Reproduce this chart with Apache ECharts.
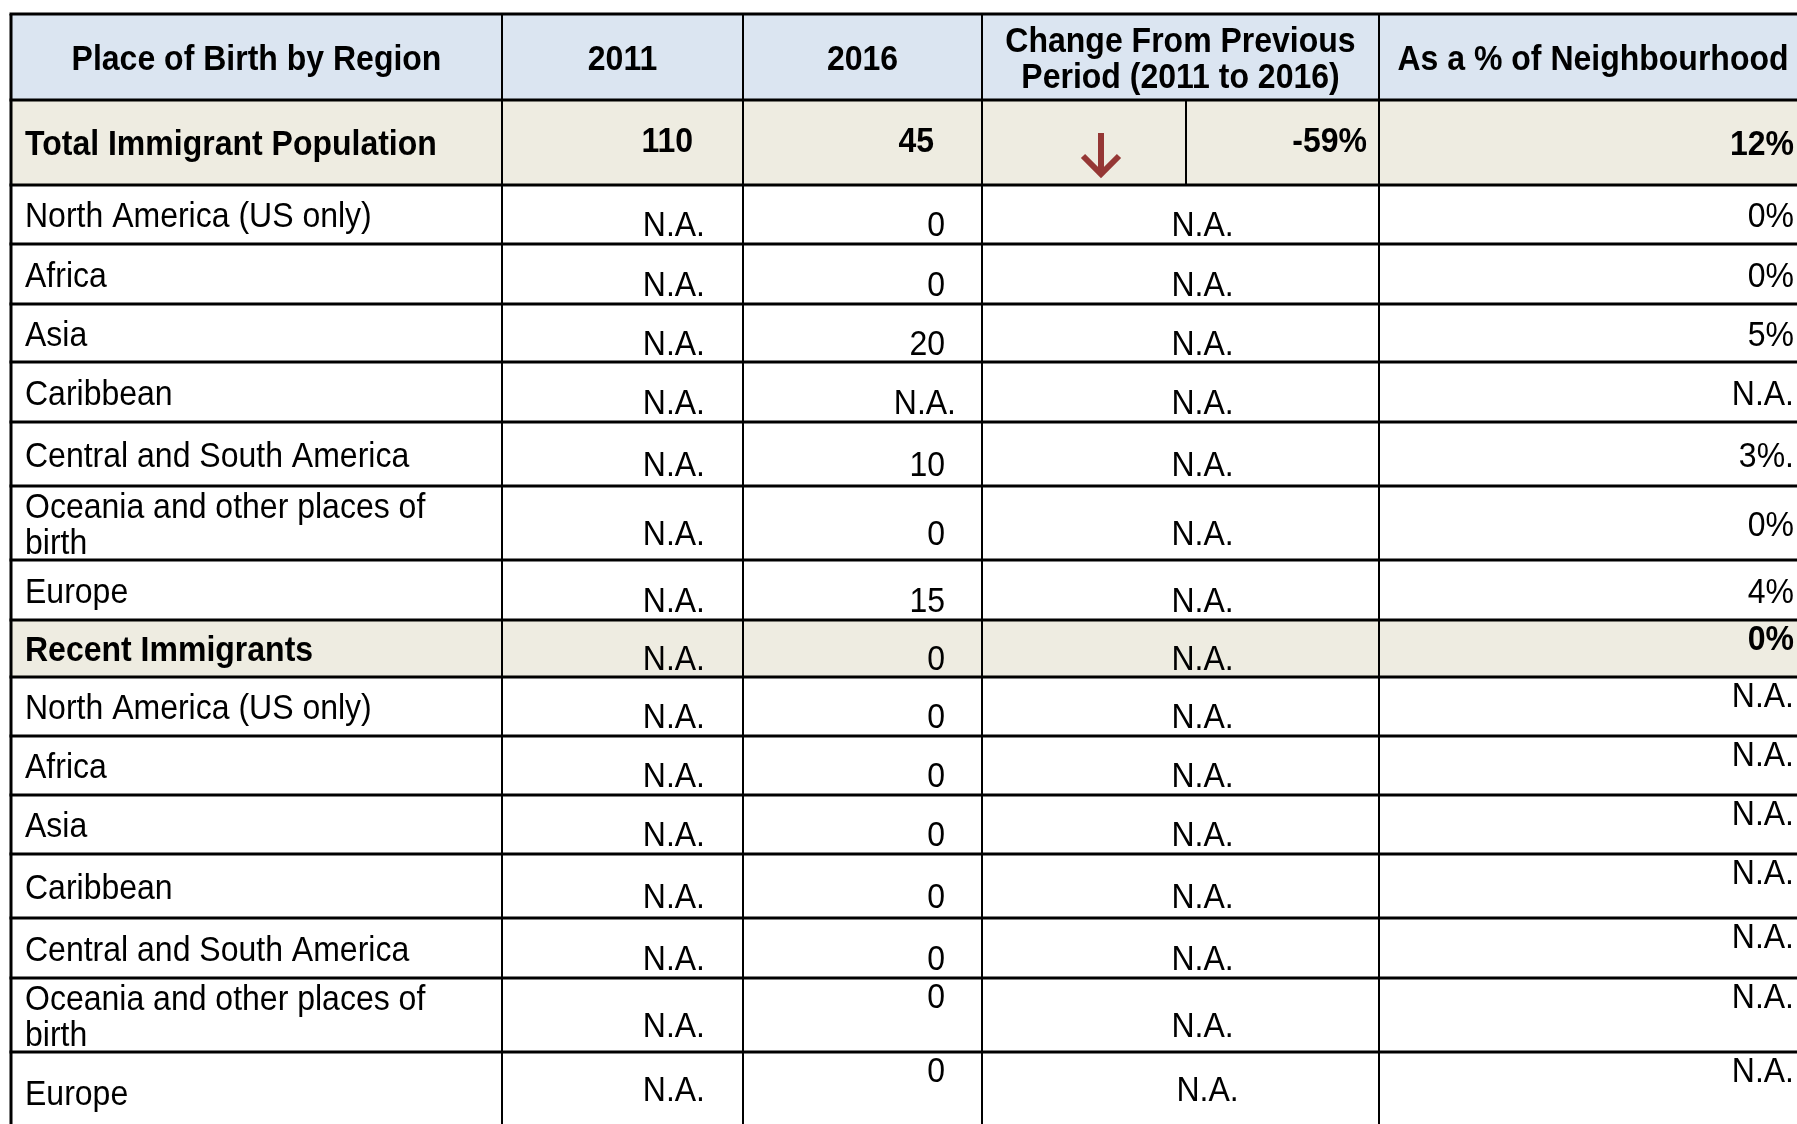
<!DOCTYPE html>
<html>
<head>
<meta charset="utf-8">
<script src="https://cdn.jsdelivr.net/npm/echarts@6/dist/echarts.min.js"></script>
<style>
  html, body { margin: 0; padding: 0; background: #fff; }
  #chart { width: 1797px; height: 1124px; }
</style>
</head>
<body>
<div id="chart"></div>
<script>
// table data
const headers = ['Place of Birth by Region', '2011', '2016', 'Change From Previous\nPeriod (2011 to 2016)', 'As a % of Neighbourhood'];
const regions = [
  'Total Immigrant Population',
  'North America (US only)', 'Africa', 'Asia', 'Caribbean', 'Central and South America',
  'Oceania and other places of\nbirth', 'Europe',
  'Recent Immigrants',
  'North America (US only)', 'Africa', 'Asia', 'Caribbean', 'Central and South America',
  'Oceania and other places of\nbirth', 'Europe'
];
const values2011 = [110, 'N.A.', 'N.A.', 'N.A.', 'N.A.', 'N.A.', 'N.A.', 'N.A.', 'N.A.', 'N.A.', 'N.A.', 'N.A.', 'N.A.', 'N.A.', 'N.A.', 'N.A.'];
const values2016 = [45, 0, 0, 20, 'N.A.', 10, 0, 15, 0, 0, 0, 0, 0, 0, 0, 0];
const changePct = ['-59%', 'N.A.', 'N.A.', 'N.A.', 'N.A.', 'N.A.', 'N.A.', 'N.A.', 'N.A.', 'N.A.', 'N.A.', 'N.A.', 'N.A.', 'N.A.', 'N.A.', 'N.A.'];
const neighbourhoodPct = ['12%', '0%', '0%', '5%', 'N.A.', '3%.', '0%', '4%', '0%', 'N.A.', 'N.A.', 'N.A.', 'N.A.', 'N.A.', 'N.A.', 'N.A.'];
const summaryRows = [0, 8];

// layout (pixel units of the hidden axes)
const colEdges = [11, 502, 743, 982, 1379, 1807];
const changeSplit = 1186;
const rowEdges = [14, 100, 185, 244, 304, 362, 422, 486, 560, 620, 677, 736, 795, 854, 918, 978, 1052, 1132];
const TEXT_DY = 3;

const chart = echarts.init(document.getElementById('chart'));
const FONT = '"Liberation Sans", Arial, sans-serif';

function txt(api, x, y, text, align, bold) {
  const p = api.coord([x, y + TEXT_DY]);
  return {
    type: 'text',
    x: p[0], y: p[1],
    scaleY: 1.1,
    style: {
      text: String(text),
      fontFamily: FONT,
      fontSize: 32,
      fontWeight: bold ? 'bold' : 'normal',
      fill: '#000',
      align: align,
      verticalAlign: 'middle',
      lineHeight: 33
    }
  };
}

function renderRow(params, api) {
  const r = params.dataIndex;          // 0 = header row
  const top = rowEdges[r], bot = rowEdges[r + 1];
  const mid = (top + bot) / 2;
  const a = api.coord([colEdges[0], top]);
  const b = api.coord([colEdges[5], bot]);
  const kids = [];
  let fill = '#ffffff';
  if (r === 0) fill = '#dbe5f1';
  else if (summaryRows.indexOf(r - 1) >= 0) fill = '#eeece1';
  kids.push({ type: 'rect', shape: { x: a[0], y: a[1], width: b[0] - a[0], height: b[1] - a[1] }, style: { fill: fill } });

  if (r === 0) {
    headers.forEach(function (h, c) {
      kids.push(txt(api, (colEdges[c] + colEdges[c + 1]) / 2, mid, h, 'center', true));
    });
    return { type: 'group', children: kids };
  }

  const i = r - 1;
  const isTotal = i === 0;
  const bold = summaryRows.indexOf(i) >= 0;
  const secondBlock = i >= 8;
  const lastRow = i === regions.length - 1;
  kids.push(txt(api, colEdges[0] + 14, mid, regions[i], 'left', bold));

  if (isTotal) {
    kids.push(txt(api, colEdges[2] - 50, mid - 3, values2011[i], 'right', true));
    kids.push(txt(api, colEdges[3] - 48, mid - 3, values2016[i], 'right', true));
    kids.push(txt(api, colEdges[4] - 12, mid - 3, changePct[i], 'right', true));
    kids.push(txt(api, colEdges[5] - 13, mid, neighbourhoodPct[i], 'right', true));
    // down arrow for the change
    const ax = (colEdges[3] + changeSplit) / 2 + 17;
    const s0 = api.coord([ax, 133]), s1 = api.coord([ax, 174]);
    const hl = api.coord([ax - 18, 156]), hr = api.coord([ax + 18, 156]);
    const arrowStyle = { stroke: '#953735', lineWidth: 6, fill: null };
    kids.push({ type: 'line', shape: { x1: s0[0], y1: s0[1], x2: s1[0], y2: s1[1] - 3 }, style: arrowStyle });
    kids.push({ type: 'polyline', shape: { points: [hl, [s1[0], s1[1]], hr] }, style: Object.assign({ lineJoin: 'miter' }, arrowStyle) });
    return { type: 'group', children: kids };
  }

  const valY = lastRow ? top + 36 : mid + 9;
  kids.push(txt(api, colEdges[2] - 38, valY, values2011[i], 'right', false));
  const v16 = values2016[i];
  kids.push(txt(api, colEdges[3] - 37 + (v16 === 'N.A.' ? 11 : 0), i >= 14 ? top + 17 : valY, v16, 'right', false));
  kids.push(txt(api, (colEdges[3] + colEdges[4]) / 2 + 22 + (lastRow ? 5 : 0), valY, changePct[i], 'center', false));
  kids.push(txt(api, colEdges[5] - 13, secondBlock ? top + 17 : mid, neighbourhoodPct[i], 'right', bold));
  return { type: 'group', children: kids };
}

function renderLines(params, api) {
  const kids = [];
  const x0 = colEdges[0], x1 = colEdges[5];
  const yTop = rowEdges[0], yBot = rowEdges[rowEdges.length - 1] + 20;
  colEdges.forEach(function (x, c) {
    const p0 = api.coord([x, yTop]), p1 = api.coord([x, yBot]);
    kids.push({ type: 'line', shape: { x1: p0[0], y1: p0[1], x2: p1[0], y2: p1[1] }, style: { stroke: '#000', lineWidth: c === 0 ? 3 : 2 } });
  });
  const s0 = api.coord([changeSplit, rowEdges[1]]), s1 = api.coord([changeSplit, rowEdges[2]]);
  kids.push({ type: 'line', shape: { x1: s0[0], y1: s0[1], x2: s1[0], y2: s1[1] }, style: { stroke: '#000', lineWidth: 2 } });
  rowEdges.slice(0, -1).forEach(function (y) {
    const p0 = api.coord([x0 - 1.5, y]), p1 = api.coord([x1, y]);
    kids.push({ type: 'line', shape: { x1: p0[0], y1: p0[1], x2: p1[0], y2: p1[1] }, style: { stroke: '#000', lineWidth: 3 } });
  });
  return { type: 'group', children: kids };
}

const option = {
  animation: false,
  backgroundColor: '#ffffff',
  grid: { left: 0, right: 0, top: 0, bottom: 0 },
  xAxis: { type: 'value', min: 0, max: 1797, show: false },
  yAxis: { type: 'value', min: 0, max: 1124, inverse: true, show: false },
  series: [
    {
      type: 'custom',
      renderItem: renderRow,
      clip: true,
      data: [headers[0]].concat(regions).map(function (_, k) { return [0, k]; }),
      z: 1
    },
    {
      type: 'custom',
      renderItem: renderLines,
      clip: true,
      data: [[0, 0]],
      z: 2
    }
  ]
};
chart.setOption(option);
</script>
</body>
</html>
